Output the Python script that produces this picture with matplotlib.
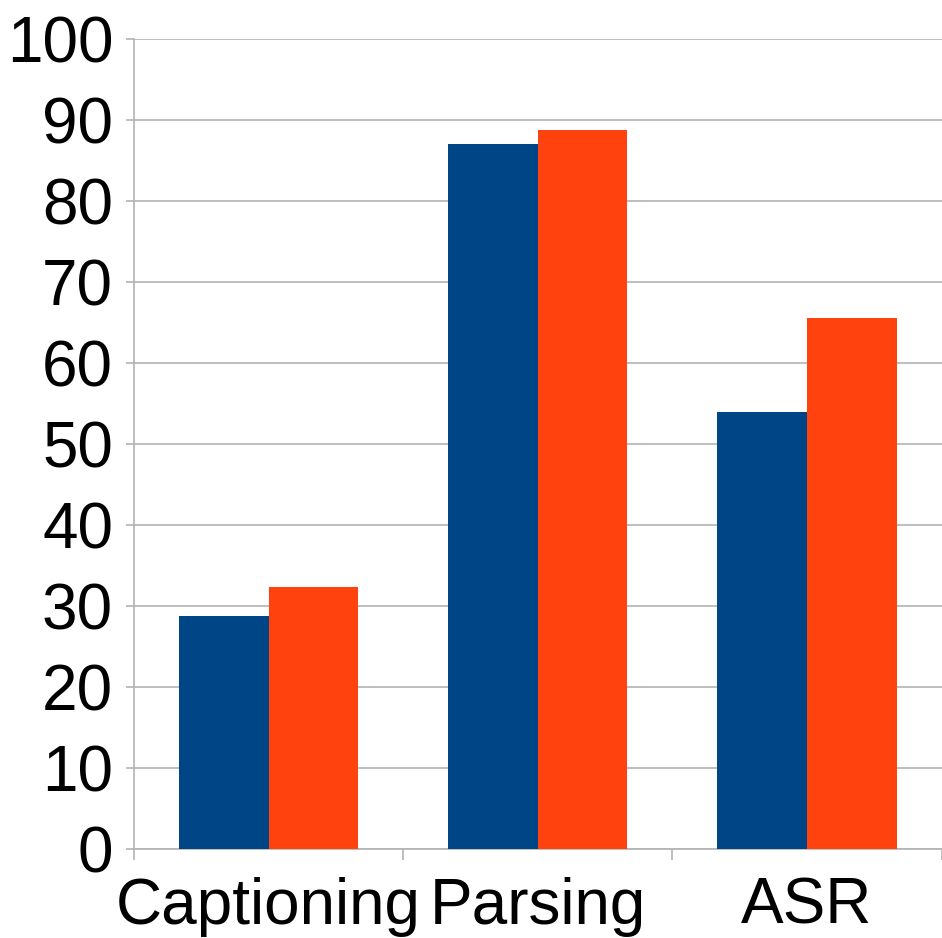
import numpy as np
import matplotlib.pyplot as plt

# valeurs
categories = ['Captioning', 'Parsing', 'ASR']
serie_bleue = [28.8, 87.0, 54.0]
serie_orange = [32.3, 88.8, 65.6]
y_ticks = list(range(0, 101, 10))

plt.rcParams['font.family'] = ['Liberation Sans', 'DejaVu Sans']

fig = plt.figure(figsize=(9.42, 9.38), dpi=100)
ax = fig.add_axes([134 / 942, 1 - 849 / 938, 1 - 134 / 942 - 0.0005, (849 - 39) / 938])

x = np.arange(len(categories))
largeur = 0.333
ax.bar(x - largeur / 2, serie_bleue, largeur, color='#004586', zorder=3)
ax.bar(x + largeur / 2, serie_orange, largeur, color='#ff420e', zorder=3)

ax.set_xlim(-0.5, len(categories) - 0.5)
ax.set_ylim(0, 100)
ax.set_yticks(y_ticks)
ax.grid(axis='y', color='#b3b3b3', linewidth=1.2, zorder=0)

# traits de graduation entre les catégories, étiquettes au centre
ax.set_xticks(np.arange(len(categories) + 1) - 0.5)
ax.set_xticklabels([])
ax.set_xticks(x, minor=True)
ax.set_xticklabels(categories, minor=True)
ax.tick_params(axis='x', which='major', length=8, width=1.2, color='#b3b3b3')
ax.tick_params(axis='x', which='minor', length=0, labelsize=46, pad=20)
ax.tick_params(axis='y', length=6, width=1.2, color='#b3b3b3', labelsize=46, pad=9)

for s in ['top', 'right']:
    ax.spines[s].set_visible(False)
ax.spines['left'].set_color('#b3b3b3')
ax.spines['bottom'].set_color('#b3b3b3')
ax.spines['left'].set_linewidth(1.2)
ax.spines['bottom'].set_linewidth(1.2)

fig.savefig('out.png', dpi=100)
